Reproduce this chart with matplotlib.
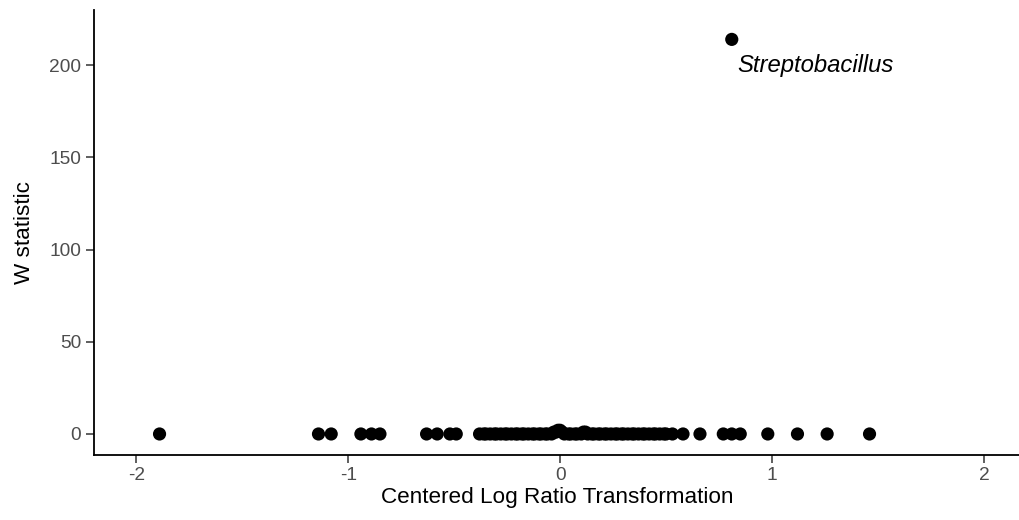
import matplotlib
matplotlib.use("Agg")
import matplotlib.pyplot as plt

# Data (CLR value, W statistic per genus)
clr = [-1.89, -1.14, -1.08, -0.94, -0.89, -0.85, -0.63, -0.58, -0.52, -0.49,
       -0.38, -0.36, -0.35, -0.33, -0.31, -0.30, -0.28, -0.26, -0.25, -0.23,
       -0.21, -0.20, -0.18, -0.17, -0.15, -0.13, -0.12, -0.10, -0.09, -0.07,
       -0.06, -0.04, -0.03, -0.02, -0.01, 0.00, 0.01, 0.02, 0.04, 0.05,
       0.07, 0.08, 0.10, 0.11, 0.12, 0.13, 0.15, 0.16, 0.18, 0.19,
       0.21, 0.22, 0.24, 0.26, 0.27, 0.29, 0.30, 0.32, 0.34, 0.35,
       0.37, 0.39, 0.40, 0.42, 0.44, 0.45, 0.47, 0.49, 0.50, 0.53,
       0.58, 0.66, 0.77, 0.81, 0.85, 0.98, 1.12, 1.26, 1.46,
       0.81]
w_stat = [0, 0, 0, 0, 0, 0, 0, 0, 0, 0,
          0, 0, 0, 0, 0, 0, 0, 0, 0, 0,
          0, 0, 0, 0, 0, 0, 0, 0, 0, 0,
          0, 0, 1, 1, 2, 2, 1, 0, 0, 0,
          0, 0, 0, 1, 1, 0, 0, 0, 0, 0,
          0, 0, 0, 0, 0, 0, 0, 0, 0, 0,
          0, 0, 0, 0, 0, 0, 0, 0, 0, 0,
          0, 0, 0, 0, 0, 0, 0, 0, 0,
          214]
label_text = "Streptobacillus"
label_idx = len(clr) - 1
x_ticks = [-2, -1, 0, 1, 2]
y_ticks = [0, 50, 100, 150, 200]

plt.rcParams['font.family'] = ['Liberation Sans', 'DejaVu Sans']

fig = plt.figure(figsize=(10.2, 5.2), dpi=100)
ax = fig.add_axes([0.092, 0.125, 0.908, 0.856])

ax.scatter(clr, w_stat, s=90, color='black', edgecolors='none', zorder=3, clip_on=False)
ax.text(clr[label_idx] + 0.027, w_stat[label_idx] - 14, label_text,
        style='italic', fontsize=17.2, ha='left', va='center', color='black')

ax.set_xlim(-2.2, 2.17)
ax.set_ylim(-11.4, 230)
ax.set_xticks(x_ticks)
ax.set_xticklabels([str(t) for t in x_ticks])
ax.set_yticks(y_ticks)
ax.set_yticklabels([str(t) for t in y_ticks])

for s in ['top', 'right']:
    ax.spines[s].set_visible(False)
for s in ['left', 'bottom']:
    ax.spines[s].set_linewidth(1.3)
    ax.spines[s].set_color('black')

ax.tick_params(axis='both', direction='out', length=6, width=1.1, color='#333333',
               labelcolor='#4D4D4D', labelsize=13.8, pad=3)

ax.set_xlabel('Centered Log Ratio Transformation', fontsize=16.2, color='black', labelpad=2)
ax.set_ylabel('W statistic', fontsize=16.2, color='black', labelpad=10)

fig.savefig('out.png', dpi=100)
